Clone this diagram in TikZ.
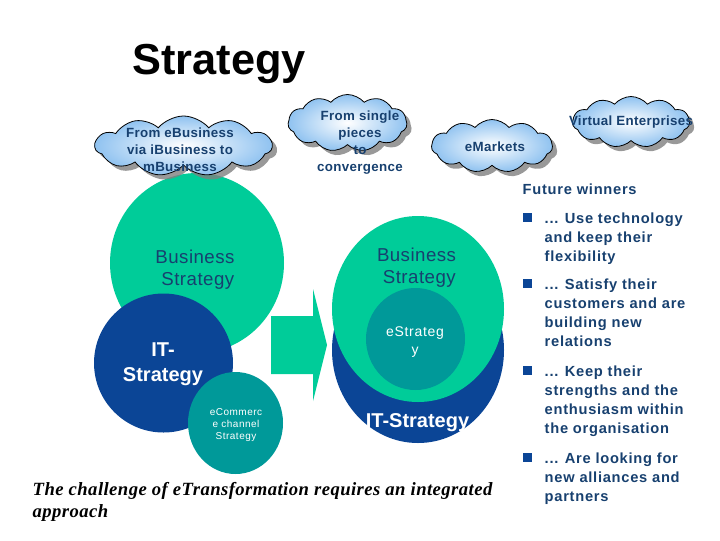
\documentclass[tikz,border=0pt]{standalone}
\usepackage{fontspec}
\setmainfont{Liberation Sans}
\newfontfamily\widefont[LetterSpace=5]{Liberation Sans}
\newfontfamily\midfont[LetterSpace=2.5]{Liberation Sans}
\newfontfamily\notefont[LetterSpace=2.3]{Liberation Serif}
\usetikzlibrary{shapes.symbols,shadows,positioning}
\definecolor{stratgreen}{HTML}{00CC99}
\definecolor{stratblue}{HTML}{0B4596}
\definecolor{stratteal}{HTML}{009999}
\definecolor{inknavy}{HTML}{17406F}
\definecolor{cloudblue}{HTML}{8FC2F0}
\tikzset{
  cloudA/.style={ draw=black, line width=0.6pt, cloud, cloud puffs=#1, cloud puff arc=100, aspect=2.4,
    inner sep=0pt, outer sep=0pt, inner color=white, outer color=cloudblue,
    drop shadow={shadow xshift=3.5pt, shadow yshift=-3.5pt, fill=black!50, opacity=0.8} },
  cloudtxt/.style={ font=\midfont\fontsize{10}{12.8}\selectfont\bfseries, text=inknavy, align=center },
  disc/.style={ ellipse, inner sep=0pt, text=white, align=center },
  bigtxt/.style={ font=\midfont\fontsize{14}{16.5}\selectfont, align=center },
  bulltxt/.style={ font=\widefont\fontsize{11}{14.4}\selectfont\bfseries, text=inknavy, align=left, anchor=north west },
  bullmark/.style={ fill=stratblue, minimum size=6.75pt, inner sep=0pt }
}
\usetikzlibrary{shapes.geometric}
\begin{document}
\begin{tikzpicture}[x=0.75pt, y=-0.75pt]
      \useasboundingbox (0, 0) rectangle (720, 540);
      \node[font=\fontsize{32.5}{40}\selectfont\bfseries] (title) at (219, 64) {Strategy};
      % left circles
      \node[disc, fill=stratgreen, minimum width=174pt*0.75, minimum height=180pt*0.75] (bizL) at (197, 263) {};
      \node[bigtxt, text=inknavy] (bizLtxt) at (195, 270) {Business\\~Strategy};
      \node[disc, fill=stratblue, minimum width=139pt*0.75, minimum height=139pt*0.75] (itL) at (163.5, 363) {};
      \node[text=white, align=center, font=\fontsize{15}{18.8}\selectfont\bfseries] (itLtxt) at (163, 364) {IT-\\Strategy};
      \node[disc, fill=stratteal, minimum width=95pt*0.75, minimum height=102pt*0.75] (ecL) at (235.5, 423) {};
      \node[text=white, align=center, font=\widefont\fontsize{7.5}{9}\selectfont] (ecLtxt) at (236, 425) {eCommerc\\e channel\\Strategy};
      % arrow
      \fill[stratgreen] (271, 316) -- (313, 316) -- (313, 289) -- (327, 345) -- (313, 401) -- (313, 374) -- (271, 374) -- cycle;
      % right circles
      \node[disc, fill=stratblue, minimum width=172pt*0.75, minimum height=186pt*0.75] (itR) at (418, 350) {};
      \node[disc, fill=stratgreen, minimum width=172pt*0.75, minimum height=186pt*0.75] (bizR) at (418, 309) {};
      \node[disc, fill=stratteal, minimum width=99pt*0.75, minimum height=102pt*0.75] (eR) at (415.5, 339) {};
      \node[bigtxt, text=inknavy] (bizRtxt) at (416.5, 268) {Business\\~Strategy};
      \node[text=white, align=center, font=\widefont\fontsize{10.5}{13.5}\selectfont] (eRtxt) at (415, 342.5) {eStrateg\\y};
      \node[text=white, font=\fontsize{15}{18}\selectfont\bfseries] (itRtxt) at (417.5, 423) {IT-Strategy};
      % clouds
      \node[cloudA=11, minimum width=177pt*0.75, minimum height=60pt*0.75] (cl1) at (183.5, 146) {};
      \node[cloudtxt] (cl1txt) at (180, 150) {From eBusiness\\via iBusiness to\\mBusiness};
      \node[cloudA=11, minimum width=119pt*0.75, minimum height=57pt*0.75] (cl2) at (347.5, 123) {};
      \node[cloudtxt] (cl2txt) at (360, 142.5) {From single\\pieces\\to\\convergence};
      \node[cloudA=11, minimum width=121pt*0.75, minimum height=53pt*0.75] (cl3) at (492, 146) {};
      \node[cloudtxt] (cl3txt) at (495, 147) {eMarkets};
      \node[cloudA=11, minimum width=117pt*0.75, minimum height=51pt*0.75] (cl4) at (631, 122) {};
      \node[cloudtxt] (cl4txt) at (631, 122) {Virtual Enterprises};
      % right hand text
      \node[font=\widefont\fontsize{11}{14}\selectfont\bfseries, text=inknavy, anchor=west] (winners) at (518, 189) {Future winners};
      \node[bullmark] (b1) at (527.5, 217) {};
      \node[bulltxt] (t1) at (540, 208) {... Use technology\\and keep their\\flexibility};
      \node[bullmark] (b2) at (527.5, 283) {};
      \node[bulltxt] (t2) at (540, 274) {... Satisfy their\\customers and are\\building new\\relations};
      \node[bullmark] (b3) at (527.5, 370) {};
      \node[bulltxt] (t3) at (540, 361) {... Keep their\\strengths and the\\enthusiasm within\\the organisation};
      \node[bullmark] (b4) at (527.5, 457) {};
      \node[bulltxt] (t4) at (540, 448) {... Are looking for\\new alliances and\\partners};
      % bottom note
      \node[font=\notefont\fontsize{14}{16.5}\selectfont\bfseries\itshape, text=black, align=left, anchor=north west] (note) at (28, 478) {The challenge of eTransformation requires an integrated\\approach};
    \end{tikzpicture}
\end{document}
